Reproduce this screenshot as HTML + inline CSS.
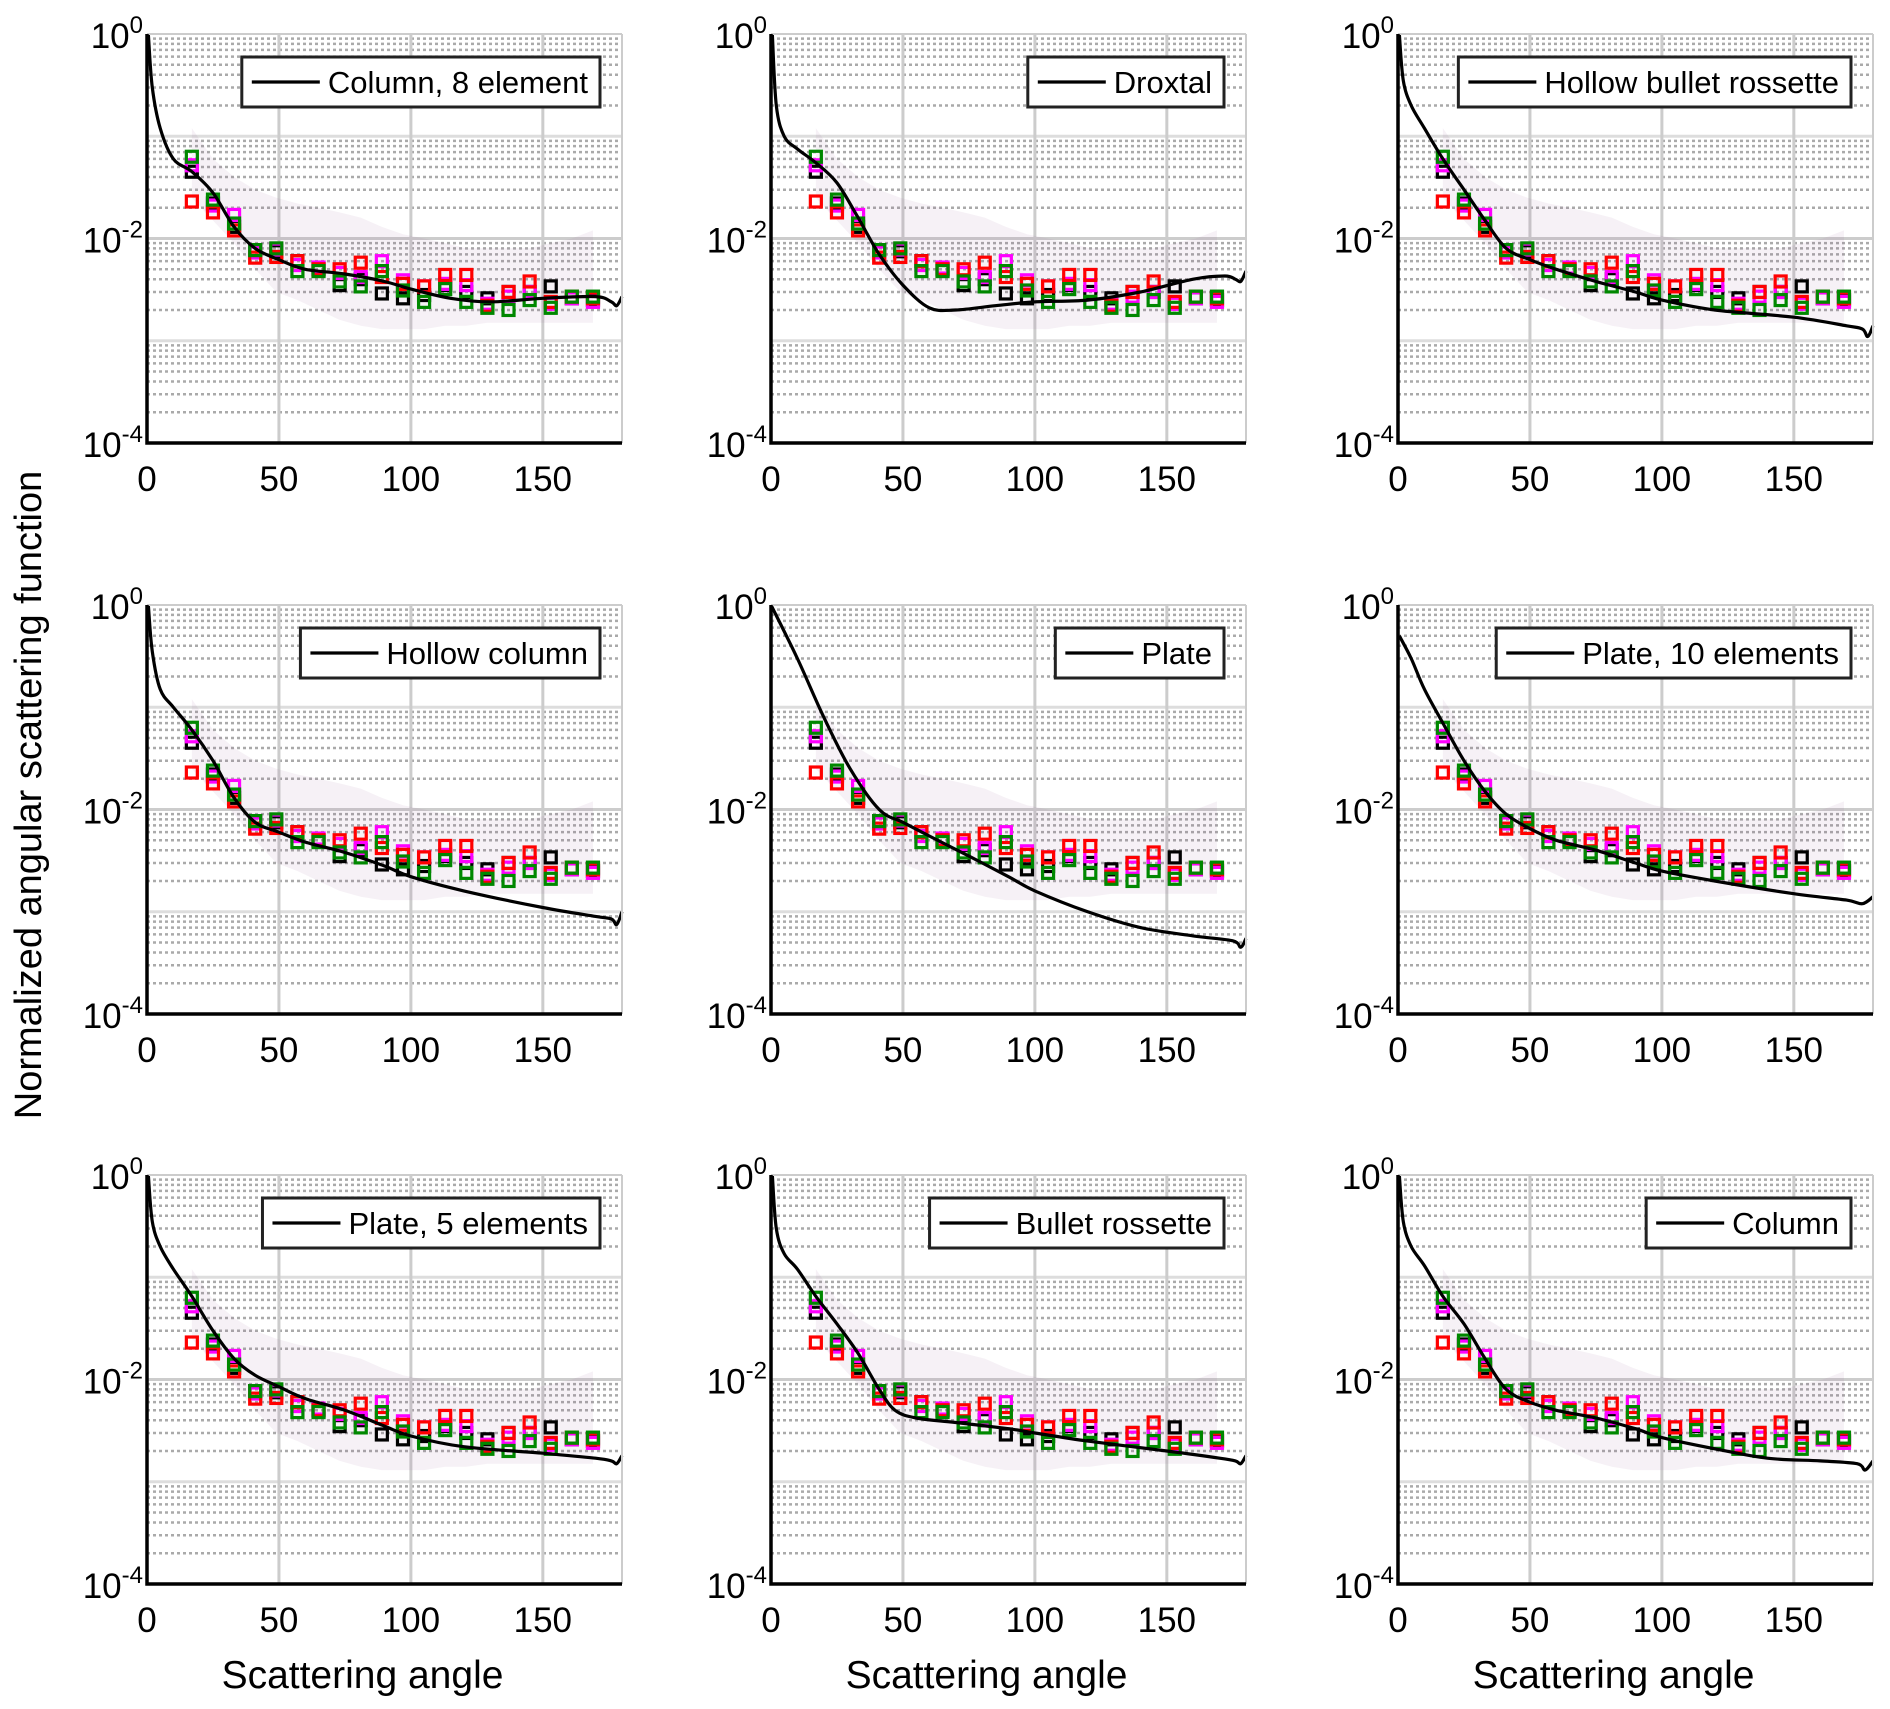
<!DOCTYPE html>
<html><head><meta charset="utf-8"><style>
html,body{margin:0;padding:0;background:#fff;}
svg{display:block;font-family:"Liberation Sans",sans-serif;}
</style></head><body>
<svg id="fig" width="1890" height="1709" viewBox="0 0 1890 1709" xmlns="http://www.w3.org/2000/svg">
<text x="41" y="795" font-size="38" text-anchor="middle" transform="rotate(-90 41 795)">Normalized angular scattering function</text>
</svg>
<script>
const angles=[17,25,33,41,49,57,65,73,81,89,97,105,113,121,129,137,145,153,161,169];
const blackVals=[0.045,0.022,0.013,0.0077,0.0075,0.006,0.005,0.0035,0.004,0.0029,0.0026,0.0028,0.0035,0.003,0.0026,0.003,0.003,0.0034,0.0026,0.0025];
const magentaVals=[0.052,0.021,0.017,0.0073,0.0078,0.0055,0.0052,0.0046,0.0042,0.006,0.0039,0.0034,0.0036,0.0035,0.0023,0.0027,0.003,0.0023,0.0026,0.0024];
const redVals=[0.023,0.018,0.012,0.0065,0.0066,0.006,0.005,0.005,0.0058,0.0042,0.0036,0.0034,0.0044,0.0044,0.0022,0.003,0.0038,0.0024,0.0027,0.0026];
const greenVals=[0.063,0.024,0.014,0.0077,0.008,0.0048,0.0048,0.0038,0.0034,0.0048,0.0031,0.0024,0.0032,0.0024,0.0021,0.002,0.0025,0.0021,0.0027,0.0027];
const bandUpper=[0.12,0.06,0.04,0.03,0.025,0.022,0.02,0.018,0.016,0.013,0.011,0.01,0.009,0.008,0.008,0.008,0.008,0.009,0.01,0.012];
const bandLower=[0.025,0.015,0.009,0.005,0.003,0.0025,0.002,0.0016,0.0014,0.0013,0.0013,0.0013,0.0014,0.0014,0.0015,0.0015,0.0015,0.0015,0.0015,0.0015];
const panelNames=["Column, 8 element","Droxtal","Hollow bullet rossette","Hollow column","Plate","Plate, 10 elements","Plate, 5 elements","Bullet rossette","Column"];
const curveAngles=[
[0.5,2,5,10,17,25,33,41,50,60,75,90,100,115,130,150,170,176,178,180],
[0.5,2,5,10,17,25,33,41,50,60,70,85,100,120,140,160,172,176,178,180],
[0.5,2,5,10,17,25,33,41,50,60,75,90,100,120,150,170,176,178,180],
[0.5,2,5,10,17,25,33,41,50,60,75,90,100,120,150,170,176,178,180],
[0,10,20,30,41,50,60,75,90,100,120,140,160,175,178,180],
[0.5,5,10,17,25,33,41,50,60,75,90,100,120,150,170,176,180],
[0.5,2,5,10,17,25,33,41,50,60,75,90,100,120,150,170,176,178,180],
[0.5,2,5,10,17,25,33,41,47,55,70,90,100,120,150,170,176,178,180],
[0.5,2,5,10,17,25,33,41,50,60,75,90,100,120,140,160,174,177,180]];
const curveVals=[
[1,0.3,0.12,0.06,0.045,0.028,0.013,0.008,0.0062,0.005,0.0045,0.0038,0.0032,0.0026,0.0024,0.0026,0.0027,0.0024,0.0022,0.0027],
[1,0.2,0.1,0.075,0.055,0.035,0.016,0.007,0.0035,0.0021,0.002,0.0022,0.0024,0.0025,0.003,0.004,0.0043,0.004,0.0038,0.0048],
[1,0.35,0.2,0.12,0.06,0.03,0.015,0.008,0.0062,0.005,0.0038,0.003,0.0025,0.002,0.0017,0.0014,0.0013,0.0011,0.0014],
[1,0.35,0.15,0.1,0.06,0.03,0.013,0.0075,0.006,0.0048,0.0038,0.0028,0.0022,0.0016,0.0011,0.0009,0.00085,0.00075,0.001],
[1,0.3,0.08,0.025,0.01,0.0075,0.0055,0.0035,0.0022,0.0016,0.001,0.0007,0.00058,0.00052,0.00045,0.00055],
[0.5,0.3,0.15,0.07,0.03,0.015,0.009,0.0065,0.005,0.004,0.003,0.0025,0.002,0.0015,0.0013,0.0012,0.0014],
[1,0.35,0.2,0.12,0.065,0.03,0.016,0.011,0.0085,0.0065,0.005,0.0035,0.0028,0.0022,0.0019,0.0017,0.0016,0.0015,0.0018],
[1,0.3,0.17,0.12,0.065,0.035,0.018,0.008,0.005,0.0042,0.0038,0.0033,0.003,0.0025,0.002,0.0017,0.0016,0.0015,0.0018],
[1,0.35,0.2,0.13,0.065,0.035,0.016,0.008,0.006,0.005,0.0042,0.0033,0.0027,0.0021,0.0017,0.0016,0.0015,0.0013,0.0016]];
const xTicks=[0,50,100,150];
const yTickExp=[0,-2,-4];

const NS="http://www.w3.org/2000/svg";
const svg=document.getElementById('fig');
const colX=[147,771,1398], rowY=[34,605,1175], W=475, H=409;
function mk(tag,attrs,parent){const e=document.createElementNS(NS,tag);for(const k in attrs)e.setAttribute(k,attrs[k]);(parent||svg).appendChild(e);return e;}
function smoothPath(pts){let d="M"+pts[0][0]+","+pts[0][1];for(let i=0;i<pts.length-1;i++){const p0=pts[Math.max(0,i-1)],p1=pts[i],p2=pts[i+1],p3=pts[Math.min(pts.length-1,i+2)];const c1=[p1[0]+(p2[0]-p0[0])/6,p1[1]+(p2[1]-p0[1])/6],c2=[p2[0]-(p3[0]-p1[0])/6,p2[1]-(p3[1]-p1[1])/6];d+=" C"+c1[0].toFixed(1)+","+c1[1].toFixed(1)+" "+c2[0].toFixed(1)+","+c2[1].toFixed(1)+" "+p2[0].toFixed(1)+","+p2[1].toFixed(1);}return d;}

for(let p=0;p<9;p++){
  const L=colX[p%3],T=rowY[Math.floor(p/3)];
  const xs=a=>L+a/180*W;
  const ys=v=>T+(-Math.log10(v))/4*H;
  const g=mk('g',{});
  
  
  for(let d=-4;d<0;d++)for(let m=2;m<=9;m++){const y=ys(m*Math.pow(10,d));
    const l=mk('line',{x1:L,x2:L+W,y1:y,y2:y,stroke:'#aaa','stroke-width':2.5,'stroke-dasharray':'3 3'},g);
    }
  for(const e of [-1,-2,-3]){const y=ys(Math.pow(10,e));
    const l=mk('line',{x1:L,x2:L+W,y1:y,y2:y,stroke:e==-2?'#ccc':'#ddd','stroke-width':3},g);
    }
  for(const t of xTicks.slice(1)){const l=mk('line',{x1:xs(t),x2:xs(t),y1:T,y2:T+H,stroke:'#ccc','stroke-width':3},g);
    }
  let bd="M"+angles.map((a,i)=>xs(a)+","+ys(bandUpper[i])).join(" L")+" L"+angles.slice().reverse().map((a,i)=>xs(a)+","+ys(bandLower[angles.length-1-i])).join(" L")+"Z";
  const band=mk('path',{d:bd,fill:'#8a4a8a','fill-opacity':0.08},g);
  
  const series=[['black',blackVals,'#000'],['magenta',magentaVals,'#f0f'],['red',redVals,'#f00'],['green',greenVals,'#080']];
  for(const [nm,vals,col] of series){angles.forEach((a,i)=>{
    const r=mk('rect',{x:xs(a)-5.5,y:ys(vals[i])-5.5,width:11,height:11,fill:'none',stroke:col,'stroke-width':3.2},g);
    });}
  const pts=curveAngles[p].map((a,i)=>[xs(a),ys(curveVals[p][i])]);
  const c=mk('path',{d:smoothPath(pts),fill:'none',stroke:'#000','stroke-width':3.2},g);
  
  mk('line',{x1:L,x2:L+W,y1:T,y2:T,stroke:'#ccc','stroke-width':2},g);
  mk('line',{x1:L+W,x2:L+W,y1:T,y2:T+H,stroke:'#ccc','stroke-width':2},g);
  const ax=mk('path',{d:`M${L},${T} V${T+H} H${L+W}`,fill:'none',stroke:'#000','stroke-width':3.5},g);
  
  for(const t of xTicks){const tx=mk('text',{x:xs(t),y:T+H+48,'font-size':35,'text-anchor':'middle'},g);tx.textContent=t;
    }
  for(const e of yTickExp){const y=ys(Math.pow(10,e));const tx=mk('text',{x:L-4,y:y+14,'font-size':35,'text-anchor':'end'},g);
    
    tx.innerHTML='10<tspan dy="-15" font-size="24">'+e+'</tspan>';}
  const label=panelNames[p];
  const tmp=mk('text',{'font-size':31},g);tmp.textContent=label;const tw=tmp.getComputedTextLength();g.removeChild(tmp);
  const lw=tw+98,lx=L+W-22-lw,ly=T+23;
  const lg=mk('g',{},g);
  mk('rect',{x:lx,y:ly,width:lw,height:50,fill:'#fff',stroke:'#222','stroke-width':3},lg);
  mk('line',{x1:lx+10,x2:lx+78,y1:ly+25,y2:ly+25,stroke:'#000','stroke-width':3.2},lg);
  const lt=mk('text',{x:lx+86,y:ly+36,'font-size':31},lg);lt.textContent=label;
  if(p>=6){const xl=mk('text',{x:L+W/2-22,y:1688,'font-size':39,'text-anchor':'middle'},g);xl.textContent='Scattering angle';
    }
}
</script>
</body></html>
